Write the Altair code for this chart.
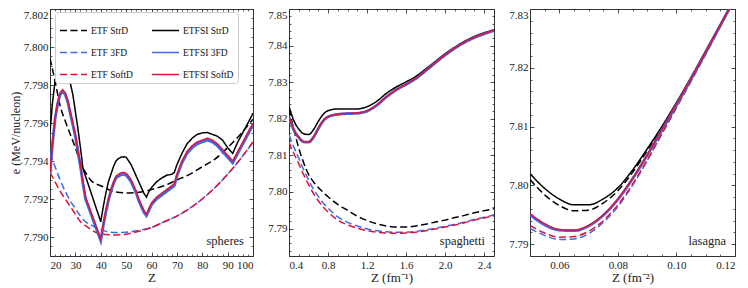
import altair as alt
import pandas as pd
import numpy as np

FONT = "Liberation Serif"

SERIES = ["ETF StrD", "ETF 3FD", "ETF SoftD", "ETFSI StrD", "ETFSI 3FD", "ETFSI SoftD"]
COLORS = ["#000000", "#4169e1", "#dc143c", "#000000", "#4169e1", "#dc143c"]
DASHES = [[7, 3.5], [7, 3.5], [7, 3.5], [1, 0], [1, 0], [1, 0]]

# ---------------- spheres ----------------
sph_z_dash = [20, 22, 24, 26, 28, 30, 32, 34, 36, 38, 40, 43, 46, 50, 55, 60, 65, 70, 75, 80, 85, 90, 95, 100]
sph_etf_strd = [7.7994, 7.7982, 7.7969, 7.7961, 7.7954, 7.7947, 7.7939, 7.7934, 7.7930, 7.7928, 7.7927, 7.7925,
                7.79237, 7.79232, 7.79235, 7.7925, 7.7927, 7.7930, 7.7933, 7.7937, 7.7941, 7.7947, 7.7954, 7.7962]
sph_etf_3fd = [7.7944, 7.7937, 7.7930, 7.7924, 7.7919, 7.7915, 7.7911, 7.7908, 7.79065, 7.7905, 7.7904, 7.79027,
               7.79024, 7.79025, 7.79035, 7.7905, 7.7908, 7.7911, 7.7915, 7.7920, 7.7926, 7.7933, 7.7941, 7.7950]
sph_etf_soft = [7.7934, 7.7929, 7.7924, 7.7920, 7.7916, 7.7912, 7.7908, 7.7906, 7.7904, 7.79025, 7.79017, 7.79012,
                7.79011, 7.79015, 7.7903, 7.7905, 7.7908, 7.7911, 7.7915, 7.7920, 7.7926, 7.7933, 7.7941, 7.7950]

sph_z_strd = [20, 21, 22, 23, 24, 25, 26, 27, 28, 29, 30, 31, 32, 33,
              40, 41, 42, 43, 44, 45, 46, 47, 48, 49, 50, 51, 52, 53, 54, 55, 56, 57, 58, 59, 60,
              62, 64, 66, 68, 69, 70, 72, 74, 76, 78, 80, 82, 84, 86, 88, 90, 92, 94, 96, 98, 100]
sph_etfsi_strd = [7.7955, 7.7971, 7.7982, 7.7988, 7.79905, 7.79915, 7.7990, 7.7987, 7.7981, 7.7975, 7.7966, 7.7957, 7.7947, 7.7936,
                  7.7908, 7.7916, 7.7923, 7.7929, 7.7933, 7.7937, 7.7940, 7.79413, 7.7942, 7.79422, 7.7942, 7.7940, 7.7938,
                  7.7935, 7.7932, 7.7929, 7.7926, 7.7923, 7.7921, 7.7924, 7.7926,
                  7.7929, 7.7931, 7.79325, 7.7933, 7.7934, 7.7938, 7.7944, 7.7949, 7.7952, 7.7954, 7.79548, 7.7955,
                  7.7954, 7.7953, 7.7951, 7.7947, 7.7944, 7.7950, 7.7955, 7.7960, 7.7965]

sph_z_si = [20, 21, 22, 23, 24, 25, 26, 27, 28, 29, 30, 31, 32, 33, 34,
            40, 41, 42, 43, 44, 45, 46, 47, 48, 49, 50, 51, 52, 53, 54, 55, 56, 57, 58, 59, 60,
            62, 64, 66, 68, 69, 70, 72, 74, 76, 78, 80, 82, 84, 86, 88, 90, 92, 94, 96, 98, 100]
sph_etfsi_soft = [7.7934, 7.7950, 7.7963, 7.7971, 7.7976, 7.79775, 7.7976, 7.7972, 7.7966, 7.7960, 7.7954, 7.7946, 7.7938, 7.7929, 7.7921,
                  7.7899, 7.7907, 7.7914, 7.7920, 7.7925, 7.7929, 7.7932, 7.7933, 7.79338, 7.7934, 7.79335, 7.7932, 7.7930,
                  7.7927, 7.7924, 7.7920, 7.7917, 7.7914, 7.7912, 7.7915, 7.7918,
                  7.7921, 7.7923, 7.7925, 7.7927, 7.7928, 7.7933, 7.7940, 7.7945, 7.7948, 7.7950, 7.7951, 7.7952,
                  7.7951, 7.7949, 7.7946, 7.7943, 7.7940, 7.7945, 7.7950, 7.7955, 7.7960]
sph_etfsi_3fd = [7.7933, 7.7949, 7.7962, 7.7970, 7.7975, 7.79765, 7.7975, 7.7971, 7.7965, 7.7959, 7.7953, 7.7945, 7.7937, 7.7928, 7.7920,
                 7.7898, 7.7906, 7.7913, 7.7919, 7.7924, 7.7928, 7.7931, 7.7932, 7.79328, 7.7933, 7.79325, 7.7931, 7.7929,
                 7.7926, 7.7923, 7.7919, 7.7916, 7.7913, 7.79112, 7.7914, 7.7917,
                 7.7920, 7.7922, 7.7924, 7.7926, 7.7927, 7.7932, 7.7939, 7.7944, 7.7947, 7.7949, 7.7950, 7.7951,
                 7.7950, 7.7948, 7.7945, 7.7942, 7.7939, 7.7944, 7.7949, 7.7954, 7.7959]

# ---------------- spaghetti ----------------
spa_x = [0.4, 0.45, 0.5, 0.55, 0.6, 0.65, 0.7, 0.75, 0.8, 0.9, 1.0, 1.1, 1.2, 1.3, 1.4, 1.5,
         1.6, 1.7, 1.8, 1.9, 2.0, 2.1, 2.2, 2.3, 2.4, 2.5]
spa_etf_strd = [7.8228, 7.8170, 7.8120, 7.8080, 7.8048, 7.8028, 7.8012, 7.7999, 7.7987, 7.7966, 7.7950, 7.7934, 7.7922,
                7.7913, 7.7907, 7.7904, 7.7904, 7.7907, 7.7912, 7.7918, 7.7923, 7.7930, 7.7936, 7.7943, 7.7949, 7.7954]
spa_etf_3fd = [7.8156, 7.8123, 7.8092, 7.8061, 7.8033, 7.8008, 7.7988, 7.7970, 7.7956, 7.7932, 7.7917, 7.7907, 7.7899,
               7.7894, 7.7891, 7.7890, 7.7890, 7.7892, 7.7896, 7.7901, 7.7906, 7.7912, 7.7918, 7.7925, 7.7931, 7.7937]
spa_etf_soft = [7.8136, 7.8105, 7.8077, 7.8047, 7.8020, 7.7996, 7.7976, 7.7959, 7.7945, 7.7923, 7.7910, 7.7901, 7.7894,
                7.7890, 7.7888, 7.7887, 7.7888, 7.7890, 7.7894, 7.7899, 7.7904, 7.7910, 7.7916, 7.7923, 7.7929, 7.7935]
spa_etfsi_strd = [7.8233, 7.8195, 7.8172, 7.8159, 7.8157, 7.8170, 7.8193, 7.8212, 7.8222, 7.8227, 7.8227, 7.8227, 7.8233,
                  7.8248, 7.8270, 7.8287, 7.8301, 7.8316, 7.8336, 7.8357, 7.8378, 7.8396, 7.8412, 7.8425, 7.8435, 7.8443]
spa_etfsi_3fd = [7.8205, 7.8169, 7.8149, 7.8137, 7.8136, 7.8149, 7.8173, 7.8194, 7.8205, 7.8212, 7.8214, 7.8215, 7.8221,
                 7.8237, 7.8260, 7.8279, 7.8294, 7.8310, 7.8331, 7.8353, 7.8374, 7.8393, 7.8409, 7.8422, 7.8432, 7.8441]
spa_etfsi_soft = [7.8206, 7.8170, 7.8150, 7.8138, 7.8137, 7.8150, 7.8174, 7.8195, 7.8206, 7.8213, 7.8215, 7.8216, 7.8222,
                  7.8238, 7.8261, 7.8280, 7.8295, 7.8311, 7.8332, 7.8354, 7.8375, 7.8394, 7.8410, 7.8423, 7.8433, 7.8442]

# ---------------- lasagna ----------------
las_x = [0.05, 0.055, 0.06, 0.065, 0.07, 0.075, 0.08, 0.085, 0.09, 0.095, 0.10, 0.105, 0.11, 0.115, 0.12]
las_etf_strd = [7.8010, 7.7984, 7.7966, 7.7957, 7.7958, 7.7970, 7.7991, 7.8022, 7.8059, 7.8098, 7.8139, 7.8182, 7.8227, 7.8273, 7.8319]
las_etf_3fd = [7.7927, 7.7915, 7.7908, 7.7909, 7.7918, 7.7937, 7.7964, 7.8000, 7.8042, 7.8087, 7.8132, 7.8177, 7.8223, 7.8270, 7.8317]
las_etf_soft = [7.7932, 7.7919, 7.7912, 7.7913, 7.7922, 7.7940, 7.7967, 7.8002, 7.8043, 7.8088, 7.8133, 7.8178, 7.8224, 7.8271, 7.8318]
las_etfsi_strd = [7.8020, 7.7995, 7.7977, 7.7967, 7.7967, 7.7977, 7.7996, 7.8026, 7.8062, 7.8100, 7.8141, 7.8184, 7.8229, 7.8274, 7.8320]
las_etfsi_3fd = [7.7950, 7.7933, 7.7924, 7.7923, 7.7931, 7.7949, 7.7976, 7.8011, 7.8051, 7.8094, 7.8137, 7.8181, 7.8226, 7.8272, 7.8318]
las_etfsi_soft = [7.7952, 7.7935, 7.7925, 7.7924, 7.7932, 7.7950, 7.7977, 7.8012, 7.8052, 7.8095, 7.8138, 7.8182, 7.8227, 7.8273, 7.8319]


def frame(pairs):
    rows = []
    for name, xs, ys in pairs:
        for a, b in zip(xs, ys):
            rows.append({"x": a, "y": b, "series": name})
    return pd.DataFrame(rows)


sph_df = frame([
    ("ETF StrD", sph_z_dash, sph_etf_strd), ("ETF 3FD", sph_z_dash, sph_etf_3fd),
    ("ETF SoftD", sph_z_dash, sph_etf_soft), ("ETFSI StrD", sph_z_strd, sph_etfsi_strd),
    ("ETFSI 3FD", sph_z_si, sph_etfsi_3fd), ("ETFSI SoftD", sph_z_si, sph_etfsi_soft)])
spa_df = frame([(n, spa_x, v) for n, v in [
    ("ETF StrD", spa_etf_strd), ("ETF 3FD", spa_etf_3fd), ("ETF SoftD", spa_etf_soft),
    ("ETFSI StrD", spa_etfsi_strd), ("ETFSI 3FD", spa_etfsi_3fd), ("ETFSI SoftD", spa_etfsi_soft)]])
las_df = frame([(n, las_x, v) for n, v in [
    ("ETF StrD", las_etf_strd), ("ETF 3FD", las_etf_3fd), ("ETF SoftD", las_etf_soft),
    ("ETFSI StrD", las_etfsi_strd), ("ETFSI 3FD", las_etfsi_3fd), ("ETFSI SoftD", las_etfsi_soft)]])


def ticks(a, b, step):
    return [float(v) for v in np.round(np.arange(a, b + step / 2, step), 6)]


def panel(df, W, H, xdom, ydom, xmaj, xmin, ymaj, ymin, xfmt, yfmt, xtitle, ytitle, tag,
          show_legend, solid_interp):
    xs = alt.Scale(domain=xdom, nice=False, zero=False)
    ys = alt.Scale(domain=ydom, nice=False, zero=False)
    if show_legend:
        leg = alt.Legend(orient="none", legendX=5, legendY=3, columns=2, symbolType="stroke",
                         symbolSize=729, symbolStrokeWidth=1.5, labelFont=FONT, labelFontSize=9.5,
                         labelColor="#111", title=None, padding=4, fillColor="white",
                         strokeColor="#cccccc", cornerRadius=3, columnPadding=16, rowPadding=3,
                         labelOffset=3)
    else:
        leg = None
    color = alt.Color("series:N", scale=alt.Scale(domain=SERIES, range=COLORS), legend=leg)
    dash = alt.StrokeDash("series:N", scale=alt.Scale(domain=SERIES, range=DASHES), legend=leg)
    base = alt.Chart(df)

    def lines(name, width, interp):
        return base.transform_filter(alt.datum.series == name).mark_line(
            clip=True, strokeWidth=width, interpolate=interp).encode(
            x=alt.X("x:Q", scale=xs, axis=None),
            y=alt.Y("y:Q", scale=ys, axis=None),
            color=color, strokeDash=dash)

    def axis_layer(xa, ya):
        return base.mark_line(opacity=0, clip=True).encode(
            x=alt.X("x:Q", scale=xs, axis=xa), y=alt.Y("y:Q", scale=ys, axis=ya))

    common = dict(domain=False, grid=False)
    bottom = alt.Axis(orient="bottom", values=xmaj, format=xfmt, title=xtitle, tickSize=4, offset=-4,
                      labelPadding=3, titlePadding=1, **common)
    left = alt.Axis(orient="left", values=ymaj, format=yfmt, tickSize=4, offset=-4, labelPadding=2,
                    labelFlush=True, titlePadding=1, title=ytitle, titleFontSize=12, **common)
    top = alt.Axis(orient="top", values=xmaj, labels=False, title=None, tickSize=4, offset=-4, **common)
    right = alt.Axis(orient="right", values=ymaj, labels=False, title=None, tickSize=4, offset=-4, **common)
    bmin = alt.Axis(orient="bottom", values=xmin, labels=False, title=None, tickSize=2, offset=-2, **common)
    lmin = alt.Axis(orient="left", values=ymin, labels=False, title=None, tickSize=2, offset=-2, **common)
    tmin = alt.Axis(orient="top", values=xmin, labels=False, title=None, tickSize=2, offset=-2, **common)
    rmin = alt.Axis(orient="right", values=ymin, labels=False, title=None, tickSize=2, offset=-2, **common)

    text = alt.Chart(pd.DataFrame({"t": [tag]})).mark_text(
        align="right", baseline="alphabetic", font=FONT, fontSize=12.5, color="#222").encode(
        text="t:N", x=alt.value(W - 9), y=alt.value(H - 11))

    layers = [
        lines("ETF StrD", 1.5, "monotone"),
        lines("ETF 3FD", 1.5, "monotone"),
        lines("ETF SoftD", 1.5, "monotone"),
        lines("ETFSI StrD", 1.5, solid_interp),
        lines("ETFSI 3FD", 2.8, solid_interp),
        lines("ETFSI SoftD", 1.5, solid_interp),
        axis_layer(bottom, left),
        axis_layer(top, right),
        axis_layer(bmin, lmin),
        axis_layer(tmin, rmin),
        text,
    ]
    return alt.layer(*layers).resolve_axis(x="independent", y="independent").properties(width=W, height=H)


H = 247
p1 = panel(sph_df, 203, H, [20, 100], [7.789, 7.802],
           ticks(20, 100, 10), ticks(20, 100, 2), ticks(7.790, 7.802, 0.002), ticks(7.789, 7.802, 0.0005),
           "d", ".3f", "Z", "e (MeV/nucleon)", "spheres", True, "linear")
p2 = panel(spa_df, 205, H, [0.4, 2.5], [7.7825, 7.85],
           ticks(0.4, 2.4, 0.4), ticks(0.4, 2.5, 0.1), ticks(7.79, 7.85, 0.01), ticks(7.784, 7.85, 0.002),
           ".1f", ".2f", "Z (fm⁻¹)", None, "spaghetti", False, "monotone")
p3 = panel(las_df, 205, H, [0.05, 0.12], [7.788, 7.83],
           ticks(0.06, 0.12, 0.02), ticks(0.05, 0.12, 0.005), ticks(7.79, 7.83, 0.01), ticks(7.788, 7.83, 0.002),
           ".2f", ".2f", "Z (fm⁻²)", None, "lasagna", False, "monotone")

chart = alt.hconcat(p1, p2, p3, spacing=36, bounds="flush").resolve_scale(
    color="independent", strokeDash="independent").properties(
    padding={"left": 0, "top": 0, "right": 2, "bottom": 0}
).configure_view(stroke="#333333", strokeWidth=1).configure_axis(
    labelFont=FONT, titleFont=FONT, labelFontSize=11, titleFontSize=13, labelColor="#222222",
    titleColor="#222222", titleFontWeight="normal", tickColor="#333333", tickWidth=0.8
)

chart.save("out.html", embed_options={"renderer": "svg", "actions": False})
